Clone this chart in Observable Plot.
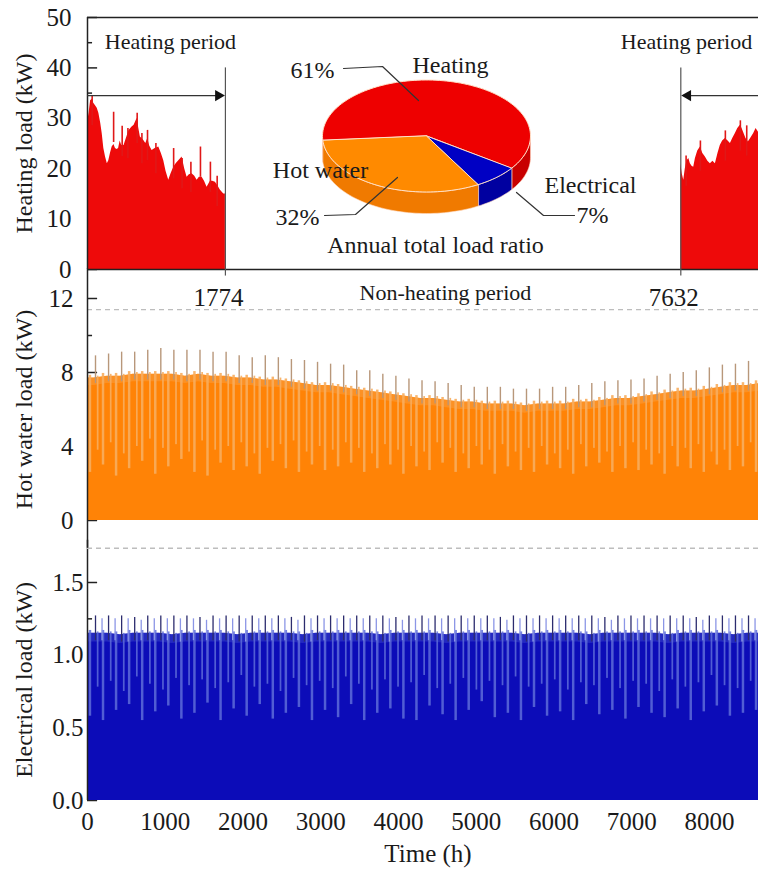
<!DOCTYPE html>
<html><head><meta charset="utf-8">
<script src="https://cdn.jsdelivr.net/npm/d3@7"></script>
<script src="https://cdn.jsdelivr.net/npm/@observablehq/plot@0.6"></script>
<style>
html,body{margin:0;padding:0;background:#fff;overflow:hidden;width:758px;height:875px;}
#wrap{position:relative;width:772px;height:875px;}
.panel{position:absolute;left:0;}
</style></head><body><div id="wrap"></div>
<script>
// ---------------- DATA ----------------
// Heating load, first heating period (h, kW) – envelope
const heatHoursA = [0,20,40,60,80,103,125,146,170,189,210,232,255,274,295,317,340,360,380,400,420,440,470,500,535,570,600,625,639,660,680,700,724,750,775,800,831,870,917,950,981,1010,1045,1075,1110,1140,1174,1217,1250,1281,1310,1345,1380,1410,1440,1474,1505,1538,1581,1610,1645,1680,1710,1753,1774];
const heatLoadA  = [29,31,33.5,33.8,33,32.5,32,31,29,27,24,22.3,21,21.6,23,24.3,24.8,24,23.8,24,25.5,24.6,24.6,26,27.6,28.2,28.6,29.5,30,28,26.3,26,25.6,25,26,24.5,23.6,24,24.3,23,21.6,19.5,17.7,19,20.3,21,21.6,22.3,20,18.3,18.8,19,18.5,17.7,18.3,18.3,17.5,16.3,17.5,17.5,17.3,16.5,15.7,15,15];
// Heating load, second heating period
const heatHoursB = [7632,7650,7670,7690,7712,7735,7755,7776,7798,7820,7850,7884,7915,7948,7980,8012,8045,8077,8110,8140,8170,8205,8240,8270,8300,8334,8365,8398,8420,8440,8470,8500,8530,8570,8600,8640,8680,8720,8760];
const heatLoadB  = [21,19,17.7,20,21.6,22,21,20.5,20.3,22,23.5,24.3,23,22.3,21.5,21,21.5,21,23,24.6,25.5,26,25.5,25,26,27,28,28.6,28,27.2,26,25.3,26,27,28,27,26,27,26];
// isolated heating peaks
const heatSpikeHours = [60,336,446,520,639,700,772,880,1108,1217,1330,1453,1581,1668,7700,7884,8205,8398,8480];
const heatSpikeLoad  = [34.5,31.2,28.4,28,31,27,27.6,25,24,22,21.3,24.3,21.3,18.5,22.5,25.5,27.5,29.5,28.5];
const heatingBounds = [1774, 7632];

// Hot water load, weekly values (kW)
const hwTop   = [7.7,7.8,7.8,7.9,7.9,7.9,7.9,7.8,7.9,7.8,7.8,7.7,7.7,7.6,7.6,7.5,7.4,7.3,7.3,7.2,7.1,7.0,6.9,6.8,6.7,6.6,6.6,6.5,6.4,6.4,6.3,6.3,6.3,6.2,6.3,6.3,6.3,6.4,6.4,6.5,6.6,6.6,6.7,6.8,6.9,7.0,7.0,7.1,7.2,7.3,7.3,7.4];
const hwPeak  = [8.9,9.0,9.1,9.1,9.2,9.3,9.2,9.2,9.2,9.1,9.1,8.9,8.8,8.9,8.8,8.7,8.65,8.55,8.45,8.4,8.1,8.1,7.9,7.8,7.65,7.55,7.5,7.4,7.3,7.2,7.2,7.2,7.1,7.1,7.1,7.2,7.2,7.3,7.4,7.5,7.55,7.6,7.65,7.8,7.9,8.0,8.1,8.25,8.4,8.45,8.6,8.7];
const hwDipA  = [2.6,3.0,2.4,2.8,3.2,2.5,2.9,3.3,2.6,2.4,3.1,2.7,2.9,2.5,3.2,2.8,2.6,3.0,2.7,2.9,3.1,2.6,2.8,3.0,2.5,2.9,2.7,3.1,2.6,2.8,3.0,2.5,2.9,2.7,2.6,3.0,2.8,2.5,2.9,3.1,2.6,2.8,2.7,3.0,2.5,2.9,2.8,2.6,3.0,2.7,2.9,2.6];
const hwDipB  = [3.8,4.2,3.6,4.0,4.4,3.9,4.1,3.7,4.3,3.8,4.0,4.2,3.6,3.9,4.1,4.3,3.7,4.0,3.8,4.2,3.9,3.6,4.1,3.8,4.0,3.7,4.2,3.9,3.6,4.0,3.8,4.1,3.7,3.9,4.0,3.6,3.8,4.1,3.9,3.7,4.0,4.2,3.8,3.6,4.0,3.9,4.1,3.7,3.8,4.0,4.2,3.9];

// Electrical load, weekly values (kW)
const elTop  = [1.15,1.15,1.14,1.15,1.15,1.15,1.14,1.15,1.15,1.15,1.15,1.14,1.15,1.15,1.15,1.15,1.14,1.15,1.15,1.15,1.15,1.15,1.14,1.15,1.15,1.15,1.15,1.14,1.15,1.15,1.15,1.15,1.15,1.14,1.15,1.15,1.15,1.15,1.14,1.15,1.15,1.15,1.15,1.15,1.14,1.15,1.15,1.15,1.15,1.14,1.15,1.15];
const elPeak = [1.27,1.27,1.27,1.26,1.27,1.27,1.27,1.27,1.26,1.27,1.27,1.27,1.27,1.27,1.27,1.26,1.27,1.27,1.27,1.27,1.27,1.27,1.27,1.26,1.27,1.27,1.27,1.27,1.27,1.27,1.27,1.26,1.27,1.27,1.27,1.27,1.27,1.27,1.27,1.26,1.27,1.27,1.27,1.27,1.27,1.27,1.26,1.27,1.27,1.27,1.27,1.27];
const elDipA = [0.58,0.55,0.62,0.66,0.55,0.61,0.65,0.56,0.60,0.67,0.55,0.63,0.58,0.66,0.56,0.60,0.64,0.55,0.62,0.57,0.66,0.55,0.60,0.63,0.56,0.55,0.65,0.59,0.55,0.62,0.68,0.57,0.60,0.55,0.64,0.58,0.61,0.55,0.66,0.59,0.62,0.56,0.64,0.60,0.57,0.63,0.55,0.61,0.65,0.58,0.60,0.62];
const elDipB = [0.78,0.82,0.75,0.85,0.80,0.76,0.84,0.79,0.83,0.77,0.81,0.86,0.78,0.80,0.75,0.84,0.79,0.82,0.77,0.85,0.80,0.76,0.83,0.78,0.81,0.86,0.77,0.80,0.84,0.76,0.82,0.79,0.85,0.78,0.80,0.83,0.76,0.81,0.79,0.84,0.77,0.82,0.80,0.75,0.83,0.78,0.81,0.86,0.79,0.77,0.82,0.80];

// Pie: annual total load ratio (%)
const pieNames  = ["Heating", "Electrical", "Hot water"];
const pieShares = [61, 7, 32];

// Tick labels
const heatTicks = [0,10,20,30,40,50], heatMinor = [5,15,25,35,45];
const hwTicks = [0,4,8,12], hwMinor = [2,6,10];
const elTicks = [0,0.5,1.0,1.5], elMinor = [0.25,0.75,1.25];
const timeTicks = [0,1000,2000,3000,4000,5000,6000,7000,8000];

// ---------------- STYLE / LAYOUT ----------------
const FONT = "'Liberation Serif','Times New Roman',serif";
const RED = "#ee0a0a", ORANGE = "#ff8306", ORANGE_L = "#f7ad5e", ORANGE_SPIKE = "#b8977a";
const BLUE = "#0c0cb8", BLUE_L = "#5e6cd8", BLUE_SPIKE = "#2c2c6e", BLUE_SPIKE_L = "#8c96e6";
const AXIS = "#222";
const pieColors = {Heating: ["#ee0000", "#c80000"], Electrical: ["#0000c4", "#0000a0"], "Hot water": ["#ff8a00", "#f07a00"]};
const W = 772, ML = 87, MR = 4, XMAX = 8760, WEEK = 168, SPIKE_OFF = 103;
const wrap = document.getElementById("wrap");
function place(svg, top, left = 0) {
  const d = document.createElement("div");
  d.className = "panel"; d.style.top = top + "px"; d.style.left = left + "px";
  d.appendChild(svg); wrap.appendChild(d);
}
const baseStyle = {fontFamily: FONT, fontSize: "25px", color: "#1a1a1a", background: "transparent", overflow: "visible"};
const zip = (xs, ys) => xs.map((x, i) => ({h: x, v: ys[i]}));
const weeks = hwTop.map((_, k) => ({k, x1: k * WEEK, x2: k === hwTop.length - 1 ? XMAX : (k + 1) * WEEK}));
// envelope rows through week centres, padded to the year ends
const env = (top) => [{h: 0, t: top[0]}, ...weeks.map(w => ({h: w.x1 + WEEK / 2, t: top[w.k]})), {h: XMAX, t: top[top.length - 1]}];
const tick = 130, minorTick = 65; // tick lengths in hours (≈10px / 5px)

// ---------------- PANEL 3 : electrical ----------------
place(Plot.plot({
  width: W, height: 335, marginLeft: ML, marginRight: MR, marginTop: 42, marginBottom: 75,
  style: baseStyle,
  x: {domain: [0, XMAX]}, y: {domain: [0, 1.5]},
  marks: [
    Plot.ruleY(elTicks, {x1: 0, x2: tick, stroke: AXIS, strokeWidth: 1.5}),
    Plot.ruleY(elMinor, {x1: 0, x2: minorTick, stroke: AXIS, strokeWidth: 1.5}),
    Plot.areaY(env(elTop), {x: "h", y: "t", fill: BLUE}),
    Plot.areaY(env(elTop), {x: "h", y1: d => d.t - 0.06, y2: "t", fill: BLUE_L, fillOpacity: 0.3}),
    Plot.rectY(weeks, {x1: d => d.x1 + 22, x2: d => d.x1 + 54, y1: d => elDipA[d.k], y2: d => elTop[d.k] + 0.02, fill: BLUE_L, fillOpacity: 0.85}),
    Plot.rectY(weeks, {x1: d => d.x1 + 126, x2: d => d.x1 + 148, y1: d => elDipB[d.k], y2: d => elTop[d.k] + 0.01, fill: BLUE_L, fillOpacity: 0.85}),
    Plot.ruleX(weeks, {x: d => d.x1 + SPIKE_OFF, y1: d => elTop[d.k] - 0.05, y2: d => elPeak[d.k], stroke: BLUE_SPIKE, strokeWidth: 1.3}),
    Plot.ruleX(weeks, {x: d => d.x1 + SPIKE_OFF + 84, y1: d => elTop[d.k] - 0.05, y2: d => elPeak[d.k] - 0.02, stroke: BLUE_SPIKE_L, strokeWidth: 1.3}),
    Plot.ruleX([0], {y1: 0, y2: 1.79, stroke: AXIS, strokeWidth: 1.5}),
    Plot.axisY(elTicks, {tickSize: 0, tickPadding: 4, tickFormat: d3.format(".1f"), label: null}),
    Plot.axisX(timeTicks, {tickSize: 0, tickPadding: 12, tickFormat: d => String(d), label: null}),
    Plot.text(["Electrical load (kW)"], {frameAnchor: "left", y: [0.83], rotate: -90, dx: -63, textAnchor: "middle", fontSize: 24}),
    Plot.text(["Time (h)"], {frameAnchor: "bottom", dy: 61, fontSize: 25})
  ]
}), 540);

// ---------------- PANEL 2 : hot water ----------------
place(Plot.plot({
  width: W, height: 290, marginLeft: ML, marginRight: MR, marginTop: 28, marginBottom: 40,
  style: baseStyle,
  x: {domain: [0, XMAX], axis: null}, y: {domain: [0, 12]},
  marks: [
    Plot.ruleY([11.4, -1.5], {stroke: "#bdbdbd", strokeDasharray: "5,4", strokeWidth: 1.3}),
    Plot.ruleY(hwTicks, {x1: 0, x2: tick, stroke: AXIS, strokeWidth: 1.5}),
    Plot.ruleY(hwMinor, {x1: 0, x2: minorTick, stroke: AXIS, strokeWidth: 1.5}),
    Plot.areaY(env(hwTop), {x: "h", y: "t", fill: ORANGE}),
    Plot.areaY(env(hwTop), {x: "h", y1: d => d.t - 0.4, y2: "t", fill: ORANGE_L, fillOpacity: 0.35}),
    Plot.rectY(weeks, {x1: d => d.x1 + 22, x2: d => d.x1 + 54, y1: d => hwDipA[d.k], y2: d => hwTop[d.k] + 0.15, fill: ORANGE_L, fillOpacity: 0.9}),
    Plot.rectY(weeks, {x1: d => d.x1 + 126, x2: d => d.x1 + 148, y1: d => hwDipB[d.k], y2: d => hwTop[d.k] + 0.1, fill: ORANGE_L, fillOpacity: 0.9}),
    Plot.ruleX(weeks, {x: d => d.x1 + SPIKE_OFF, y1: d => hwTop[d.k] - 0.3, y2: d => hwPeak[d.k], stroke: ORANGE_SPIKE, strokeWidth: 1.4}),
    Plot.ruleX([0], {y1: -1.5, y2: 13.6, stroke: AXIS, strokeWidth: 1.5}),
    Plot.axisY(hwTicks, {tickSize: 0, tickPadding: 14, label: null}),
    Plot.text(["Hot water load (kW)"], {frameAnchor: "left", rotate: -90, dx: -63, textAnchor: "middle", fontSize: 24})
  ]
}), 270);

// ---------------- PANEL 1 : heating ----------------
const ARROW_Y = 34.5;
place(Plot.plot({
  width: W, height: 300, marginLeft: ML, marginRight: MR, marginTop: 17, marginBottom: 31,
  style: baseStyle,
  x: {domain: [0, XMAX], axis: null}, y: {domain: [0, 50]},
  marks: [
    Plot.ruleY(heatTicks, {x1: 0, x2: tick, stroke: AXIS, strokeWidth: 1.5}),
    Plot.ruleY(heatMinor, {x1: 0, x2: minorTick, stroke: AXIS, strokeWidth: 1.5}),
    Plot.areaY(zip(heatHoursA, heatLoadA), {x: "h", y: "v", fill: RED}),
    Plot.areaY(zip(heatHoursB, heatLoadB), {x: "h", y: "v", fill: RED}),
    Plot.ruleX(zip(heatSpikeHours, heatSpikeLoad), {x: "h", y1: d => d.v - 6, y2: "v", stroke: "#e01818", strokeWidth: 1.6}),
    Plot.ruleY([50, 0], {stroke: AXIS, strokeWidth: 1.5}),
    Plot.ruleX([0], {y1: 0, y2: 50, stroke: AXIS, strokeWidth: 1.5}),
    Plot.ruleX(heatingBounds, {y1: -1.3, y2: 40, stroke: "#555", strokeWidth: 1.2}),
    Plot.ruleY([ARROW_Y], {x1: 0, x2: heatingBounds[0] - 60, stroke: "#333", strokeWidth: 1.2}),
    Plot.ruleY([ARROW_Y], {x1: heatingBounds[1] + 60, x2: XMAX, stroke: "#333", strokeWidth: 1.2}),
    Plot.dot([heatingBounds[0]], {x: d => d, y: ARROW_Y, symbol: "triangle", rotate: 90, r: 4.2, dx: -7, fill: "#111", stroke: "none"}),
    Plot.dot([heatingBounds[1]], {x: d => d, y: ARROW_Y, symbol: "triangle", rotate: -90, r: 4.2, dx: 7, fill: "#111", stroke: "none"}),
    Plot.axisY(heatTicks, {tickSize: 0, tickPadding: 16, label: null}),
    Plot.text(heatingBounds, {x: d => d, y: 0, text: d => String(d), dy: 28, dx: -7, fontSize: 25}),
    Plot.text(["Non-heating period"], {x: [4604], y: [0], dy: 23, fontSize: 22}),
    Plot.text(["Heating period"], {x: [1067], y: [45.2], fontSize: 22}),
    Plot.text(["Heating period"], {x: [6860], y: [45.2], textAnchor: "start", fontSize: 22}),
    Plot.text(["Heating load (kW)"], {frameAnchor: "left", rotate: -90, dx: -63, textAnchor: "middle", fontSize: 24})
  ]
}), 0);

// ---------------- PIE (3-D) ----------------
const cx = 176, cy = 95.5, rx = 104, ry = 56, depth = 21.5, START = 175.4;
const P = (a, dz = 0) => [cx + rx * Math.cos(a * Math.PI / 180), cy + ry * Math.sin(a * Math.PI / 180) + dz];
let acc = START;
const slices = pieNames.map((n, i) => { const a0 = acc, a1 = acc + pieShares[i] * 3.6; acc = a1; return {n, a0, a1}; });
const arc = (a0, a1, dz = 0) => { const pts = []; const n = Math.max(2, Math.ceil((a1 - a0) / 2)); for (let j = 0; j <= n; j++) pts.push(P(a0 + (a1 - a0) * j / n, dz)); return pts; };
const sideFeatures = [], topFeatures = [];
for (const s of slices) {
  for (const off of [0, 360]) {
    const s0 = Math.max(s.a0, off), s1 = Math.min(s.a1, off + 180);
    if (s1 > s0) {
      const ring = [...arc(s0, s1), ...arc(s0, s1, depth).reverse()]; ring.push(ring[0]);
      sideFeatures.push({type: "Feature", properties: {fill: pieColors[s.n][1]}, geometry: {type: "Polygon", coordinates: [ring]}});
    }
  }
  const ring = [[cx, cy], ...arc(s.a0, s.a1), [cx, cy]];
  topFeatures.push({type: "Feature", properties: {fill: pieColors[s.n][0]}, geometry: {type: "Polygon", coordinates: [ring]}});
}
const leaders = [
  [[93, 28], [132, 26], [168, 60]],
  [[74, 175], [105, 174], [147, 137]],
  [[266, 152], [293, 175], [324, 175]]
].map(c => ({type: "Feature", properties: {}, geometry: {type: "LineString", coordinates: c}}));
const pieTexts = [
  {t: pieShares[0] + "%", x: 62, y: 30}, {t: pieNames[0], x: 200, y: 25},
  {t: pieNames[2], x: 70, y: 130}, {t: pieShares[2] + "%", x: 47, y: 177},
  {t: pieNames[1], x: 340, y: 145}, {t: pieShares[1] + "%", x: 342, y: 175},
  {t: "Annual total load ratio", x: 185, y: 205}
];
place(Plot.plot({
  width: 420, height: 225, margin: 0,
  projection: {type: "identity"},
  color: {type: "identity"},
  style: {...baseStyle, fontSize: "24px"},
  marks: [
    Plot.geo(sideFeatures, {fill: d => d.properties.fill, stroke: "#ffd8c0", strokeWidth: 0.6}),
    Plot.geo(topFeatures, {fill: d => d.properties.fill, stroke: "#ffe0c8", strokeWidth: 1}),
    Plot.geo(leaders, {fill: "none", stroke: "#333", strokeWidth: 1.2}),
    Plot.text(pieTexts, {x: "x", y: "y", text: "t", fontSize: 24})
  ]
}), 40, 250);
</script></body></html>
